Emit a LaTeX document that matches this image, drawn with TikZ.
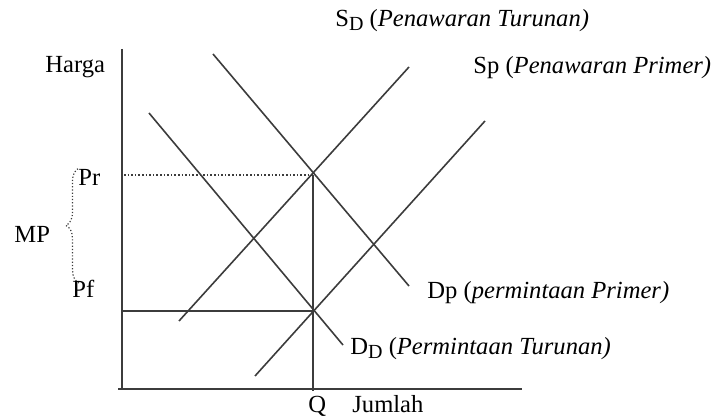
\documentclass[tikz,border=0pt]{standalone}
\usepackage{fontspec}
\setmainfont{Liberation Serif}
\usepackage{tikz}
\usetikzlibrary{decorations.pathreplacing}
\definecolor{linegray}{RGB}{60,60,60}

\newcommand{\subD}[1]{#1\raisebox{-0.35ex}{\fontsize{10}{10}\selectfont D}}

\begin{document}
\begin{tikzpicture}[x=0.5pt,y=-0.5pt,
    curve/.style={draw=linegray,line width=0.8pt},
    lbl/.style={anchor=base west,inner sep=0pt,font=\fontsize{12.3}{14}\selectfont}]
    \useasboundingbox (0,0) rectangle (719,417);

    \coordinate (o) at (122,389);
    \coordinate (ytop) at (122,49);
    \coordinate (xend) at (522,389);
    \coordinate (xstart) at (118,389);

    \coordinate (sd1) at (179,321);
    \coordinate (sd2) at (409,67);
    \coordinate (sp1) at (255,376);
    \coordinate (sp2) at (485,121);
    \coordinate (dp1) at (213,54);
    \coordinate (dp2) at (409,286);
    \coordinate (dd1) at (149,113);
    \coordinate (dd2) at (343,345);

    \coordinate (er) at (313,175);
    \coordinate (ef) at (313,311);
    \coordinate (qb) at (313,391);
    \coordinate (pr) at (124,175);
    \coordinate (pf) at (122,311);

    \draw[curve] (ytop) -- (o);
    \draw[curve] (xstart) -- (xend);

    \draw[curve] (sd1) -- (sd2);
    \draw[curve] (sp1) -- (sp2);
    \draw[curve] (dp1) -- (dp2);
    \draw[curve] (dd1) -- (dd2);

    \draw[linegray,line width=0.8pt,densely dotted] (pr) -- (er);
    \draw[curve] (pf) -- (ef);
    \draw[curve] (er) -- (qb);

    \draw[linegray,line width=0.6pt,densely dotted,
        decorate,decoration={brace,amplitude=6.5pt}] (79,283) -- (79,168);

    \node[lbl] (harga) at (45,73) {Harga};
    \node[lbl] (prl) at (78,186) {Pr};
    \node[lbl] (pfl) at (72,298) {Pf};
    \node[lbl] (mp) at (14,243) {MP};
    \node[lbl] (sdl) at (335,27) {\subD{S} (\textit{Penawaran Turunan)}};
    \node[lbl] (spl) at (473,74) {Sp (\textit{Penawaran Primer)}};
    \node[lbl] (dpl) at (427,299) {Dp (\textit{permintaan Primer)}};
    \node[lbl] (ddl) at (350,355) {\subD{D} (\textit{Permintaan Turunan)}};
    \node[lbl] (ql) at (308,413) {Q};
    \node[lbl] (jml) at (352,413) {Jumlah};
\end{tikzpicture}
\end{document}
